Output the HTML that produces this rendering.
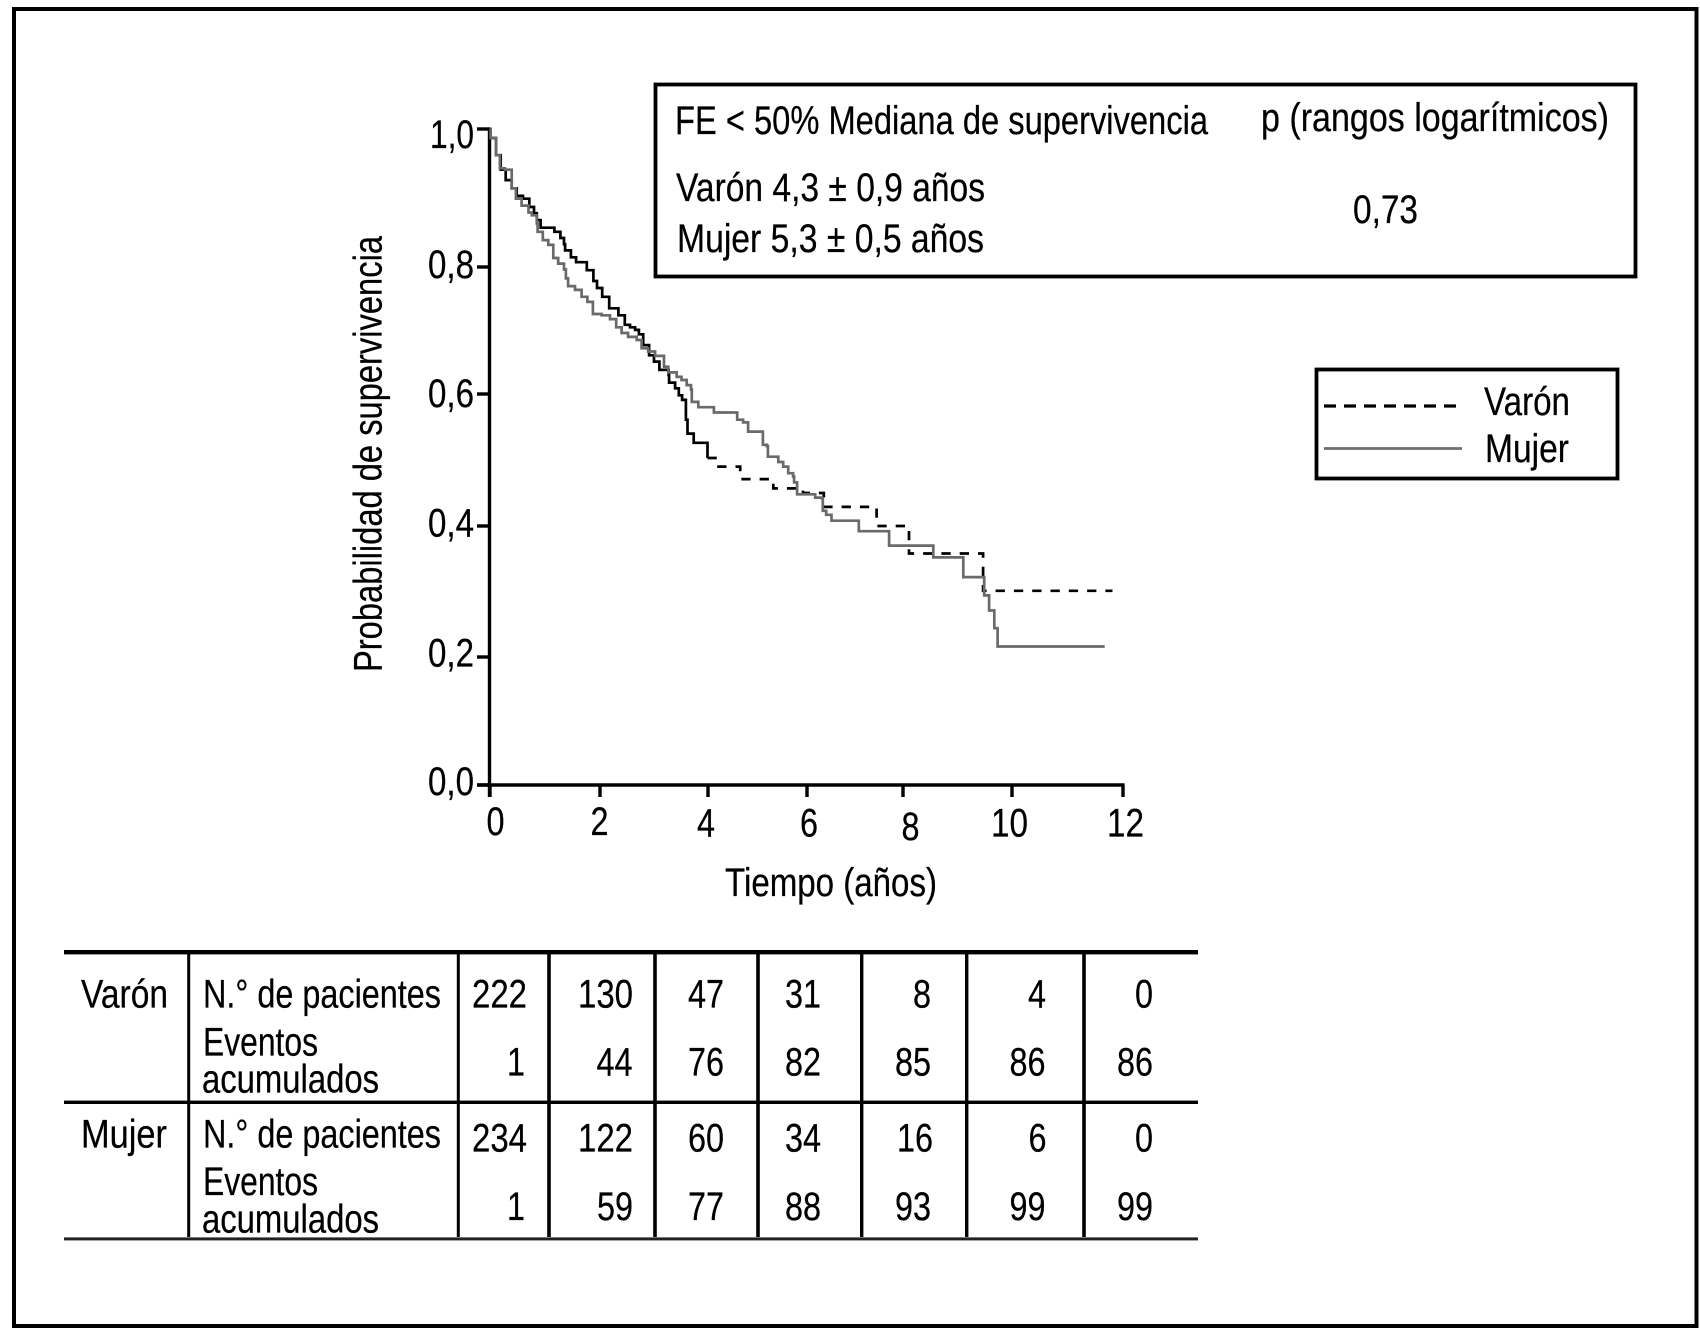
<!DOCTYPE html>
<html lang="es">
<head>
<meta charset="utf-8">
<title>Probabilidad de supervivencia</title>
<style>
html,body{margin:0;padding:0;background:#fff;}
svg{display:block;}
text{font-family:"Liberation Sans",Arial,sans-serif;font-size:40px;fill:#000;stroke:#000;stroke-width:0.25px;}
</style>
</head>
<body>
<svg id="chart" xmlns="http://www.w3.org/2000/svg" width="1700" height="1335" viewBox="0 0 1700 1335">
<rect x="14" y="9" width="1682.5" height="1317" fill="#fff" stroke="#000" stroke-width="4"/>

<g id="plot"></g>

<g>
<text x="430" y="148" textLength="44" lengthAdjust="spacingAndGlyphs">1,0</text>
<text x="428" y="278" textLength="46" lengthAdjust="spacingAndGlyphs">0,8</text>
<text x="428" y="407" textLength="46" lengthAdjust="spacingAndGlyphs">0,6</text>
<text x="428" y="536.5" textLength="46" lengthAdjust="spacingAndGlyphs">0,4</text>
<text x="428" y="666.5" textLength="46" lengthAdjust="spacingAndGlyphs">0,2</text>
<text x="428" y="795" textLength="46" lengthAdjust="spacingAndGlyphs">0,0</text>
</g>
<g>
<text x="486.5" y="835" textLength="18" lengthAdjust="spacingAndGlyphs">0</text>
<text x="590.5" y="835" textLength="18" lengthAdjust="spacingAndGlyphs">2</text>
<text x="697" y="836.5" textLength="18" lengthAdjust="spacingAndGlyphs">4</text>
<text x="800" y="836.5" textLength="18" lengthAdjust="spacingAndGlyphs">6</text>
<text x="901.5" y="840" textLength="18" lengthAdjust="spacingAndGlyphs">8</text>
<text x="991" y="836.5" textLength="37" lengthAdjust="spacingAndGlyphs">10</text>
<text x="1107" y="836.5" textLength="37" lengthAdjust="spacingAndGlyphs">12</text>
</g>
<text x="725" y="896" textLength="212" lengthAdjust="spacingAndGlyphs">Tiempo (años)</text>
<text transform="translate(381.5 672) rotate(-90)" x="0" y="0" textLength="436" lengthAdjust="spacingAndGlyphs">Probabilidad de supervivencia</text>

<g>
<rect x="655.5" y="84.5" width="980" height="192" fill="none" stroke="#000" stroke-width="3.8"/>
<text x="675" y="134" textLength="533" lengthAdjust="spacingAndGlyphs">FE &lt; 50% Mediana de supervivencia</text>
<text x="1261" y="131" textLength="348" lengthAdjust="spacingAndGlyphs">p (rangos logarítmicos)</text>
<text x="676" y="201" textLength="309" lengthAdjust="spacingAndGlyphs">Varón 4,3 ± 0,9 años</text>
<text x="677" y="252" textLength="307" lengthAdjust="spacingAndGlyphs">Mujer 5,3 ± 0,5 años</text>
<text x="1353" y="223" textLength="65" lengthAdjust="spacingAndGlyphs">0,73</text>
</g>

<g>
<rect x="1316.5" y="369.5" width="301" height="109" fill="none" stroke="#000" stroke-width="3.8"/>
<line x1="1324" y1="406" x2="1462" y2="406" stroke="#000" stroke-width="3.2" stroke-dasharray="12 8"/>
<line x1="1324" y1="448.5" x2="1462" y2="448.5" stroke="#6e6e6e" stroke-width="2.8"/>
<text x="1484" y="415" textLength="86" lengthAdjust="spacingAndGlyphs">Varón</text>
<text x="1485" y="462" textLength="84" lengthAdjust="spacingAndGlyphs">Mujer</text>
</g>

<g>
<rect x="64" y="950" width="1134" height="4.4" fill="#000"/>
<rect x="64" y="1100.6" width="1134" height="3.4" fill="#000"/>
<rect x="64" y="1237.4" width="1134" height="3" fill="#222"/>
<rect x="187.2" y="952" width="3" height="285" fill="#000"/>
<rect x="456.8" y="952" width="3" height="285" fill="#000"/>
<rect x="547.2" y="952" width="3.6" height="285" fill="#000"/>
<rect x="653.2" y="952" width="3.6" height="285" fill="#000"/>
<rect x="756.2" y="952" width="3.6" height="285" fill="#000"/>
<rect x="860" y="952" width="3.4" height="285" fill="#000"/>
<rect x="965" y="952" width="3.4" height="285" fill="#000"/>
<rect x="1082.2" y="952" width="3.6" height="285" fill="#000"/>

<text x="81" y="1007.5" textLength="87" lengthAdjust="spacingAndGlyphs">Varón</text>
<text x="81" y="1147.5" textLength="86" lengthAdjust="spacingAndGlyphs">Mujer</text>
<text x="203" y="1007.5" textLength="238" lengthAdjust="spacingAndGlyphs">N.° de pacientes</text>
<text x="203" y="1055.5" textLength="115" lengthAdjust="spacingAndGlyphs">Eventos</text>
<text x="202" y="1092.5" textLength="177" lengthAdjust="spacingAndGlyphs">acumulados</text>
<text x="203" y="1147.5" textLength="238" lengthAdjust="spacingAndGlyphs">N.° de pacientes</text>
<text x="203" y="1195" textLength="115" lengthAdjust="spacingAndGlyphs">Eventos</text>
<text x="202" y="1232.5" textLength="177" lengthAdjust="spacingAndGlyphs">acumulados</text>

<text x="472" y="1007.5" textLength="55" lengthAdjust="spacingAndGlyphs">222</text>
<text x="578" y="1007.5" textLength="55" lengthAdjust="spacingAndGlyphs">130</text>
<text x="688" y="1007.5" textLength="36" lengthAdjust="spacingAndGlyphs">47</text>
<text x="785" y="1007.5" textLength="36" lengthAdjust="spacingAndGlyphs">31</text>
<text x="913" y="1007.5" textLength="18" lengthAdjust="spacingAndGlyphs">8</text>
<text x="1028" y="1007.5" textLength="18" lengthAdjust="spacingAndGlyphs">4</text>
<text x="1135" y="1007.5" textLength="18" lengthAdjust="spacingAndGlyphs">0</text>

<text x="507" y="1075.5" textLength="18" lengthAdjust="spacingAndGlyphs">1</text>
<text x="596.5" y="1075.5" textLength="36" lengthAdjust="spacingAndGlyphs">44</text>
<text x="688" y="1075.5" textLength="36" lengthAdjust="spacingAndGlyphs">76</text>
<text x="785" y="1075.5" textLength="36" lengthAdjust="spacingAndGlyphs">82</text>
<text x="895" y="1075.5" textLength="36" lengthAdjust="spacingAndGlyphs">85</text>
<text x="1009.5" y="1075.5" textLength="36" lengthAdjust="spacingAndGlyphs">86</text>
<text x="1117" y="1075.5" textLength="36" lengthAdjust="spacingAndGlyphs">86</text>

<text x="472" y="1151.5" textLength="55" lengthAdjust="spacingAndGlyphs">234</text>
<text x="578" y="1151.5" textLength="55" lengthAdjust="spacingAndGlyphs">122</text>
<text x="688" y="1151.5" textLength="36" lengthAdjust="spacingAndGlyphs">60</text>
<text x="785" y="1151.5" textLength="36" lengthAdjust="spacingAndGlyphs">34</text>
<text x="897" y="1151.5" textLength="36" lengthAdjust="spacingAndGlyphs">16</text>
<text x="1028.5" y="1151.5" textLength="18" lengthAdjust="spacingAndGlyphs">6</text>
<text x="1135" y="1151.5" textLength="18" lengthAdjust="spacingAndGlyphs">0</text>

<text x="507" y="1220" textLength="18" lengthAdjust="spacingAndGlyphs">1</text>
<text x="597" y="1220" textLength="36" lengthAdjust="spacingAndGlyphs">59</text>
<text x="688" y="1220" textLength="36" lengthAdjust="spacingAndGlyphs">77</text>
<text x="785" y="1220" textLength="36" lengthAdjust="spacingAndGlyphs">88</text>
<text x="895" y="1220" textLength="36" lengthAdjust="spacingAndGlyphs">93</text>
<text x="1009.5" y="1220" textLength="36" lengthAdjust="spacingAndGlyphs">99</text>
<text x="1117" y="1220" textLength="36" lengthAdjust="spacingAndGlyphs">99</text>
</g>
</svg>

<script>
const xTickValues = [0, 2, 4, 6, 8, 10, 12];
const yTickValues = [0, 0.2, 0.4, 0.6, 0.8, 1];

const varonTimes = [0.01,0.11,0.195,0.285,0.395,0.485,0.60,0.715,0.80,0.85,0.92,1.17,1.28,1.345,1.365,1.47,1.565,1.76,1.88,1.945,2.04,2.17,2.34,2.46,2.555,2.65,2.72,2.80,2.91,3.00,3.10,3.27,3.28,3.39,3.46,3.52,3.59,3.62,3.735,3.99,4.18,4.65,5.32,5.92,6.35,7.45,8.11,9.47];
const varonSurvival = [0.987,0.962,0.941,0.926,0.914,0.903,0.899,0.887,0.878,0.868,0.857,0.851,0.842,0.833,0.824,0.814,0.807,0.795,0.778,0.767,0.753,0.735,0.724,0.709,0.705,0.701,0.694,0.677,0.661,0.651,0.638,0.630,0.618,0.609,0.598,0.591,0.561,0.540,0.526,0.503,0.490,0.471,0.457,0.450,0.429,0.400,0.358,0.301];
const varonEndTime = 11.81;
const varonDashStartTime = 3.99;

const mujerTimes = [0.01,0.11,0.18,0.27,0.395,0.47,0.575,0.70,0.76,0.85,0.865,0.96,1.06,1.15,1.24,1.345,1.38,1.42,1.545,1.665,1.77,1.87,2.03,2.185,2.30,2.40,2.52,2.68,2.77,2.89,3.02,3.185,3.265,3.42,3.51,3.605,3.685,3.70,3.82,4.12,4.59,4.71,4.81,5.11,5.19,5.21,5.42,5.52,5.62,5.72,5.74,5.80,6.17,6.31,6.33,6.40,6.51,7.08,7.71,8.556,9.106,9.49,9.58,9.675,9.735];
const mujerSurvival = [0.987,0.962,0.943,0.941,0.914,0.899,0.889,0.879,0.875,0.863,0.851,0.839,0.832,0.813,0.805,0.796,0.782,0.770,0.764,0.753,0.745,0.726,0.724,0.718,0.705,0.696,0.690,0.685,0.672,0.667,0.660,0.643,0.634,0.627,0.622,0.614,0.607,0.588,0.580,0.572,0.561,0.557,0.543,0.523,0.521,0.505,0.497,0.490,0.480,0.475,0.466,0.448,0.443,0.442,0.423,0.417,0.408,0.392,0.370,0.352,0.322,0.294,0.271,0.244,0.216];
const mujerEndTime = 11.67;

function interpolate(value, domain, range) {
  let i = 0;
  while (i < domain.length - 2 && value > domain[i + 1]) i++;
  return range[i] + (value - domain[i]) * (range[i + 1] - range[i]) / (domain[i + 1] - domain[i]);
}
function xScale(t) {
  return interpolate(t, [0, 2, 4, 6, 8, 10, 12], [490, 600, 708, 807, 903, 1012, 1123]);
}
function yScale(s) {
  return interpolate(s, [0, 0.2, 0.4, 0.6, 0.8, 1], [785, 657, 526, 394, 267, 129]);
}
function stepPath(times, values, startTime, startValue, endTime) {
  let d = 'M' + xScale(startTime).toFixed(1) + ' ' + yScale(startValue).toFixed(1);
  for (let i = 0; i < times.length; i++) {
    d += 'H' + xScale(times[i]).toFixed(1) + 'V' + yScale(values[i]).toFixed(1);
  }
  if (endTime !== null) d += 'H' + xScale(endTime).toFixed(1);
  return d;
}

const NS = 'http://www.w3.org/2000/svg';
const plot = document.getElementById('plot');

const xAxisLine = document.createElementNS(NS, 'line');


xAxisLine.setAttribute('x1', xScale(0) - 13);
xAxisLine.setAttribute('x2', xScale(12) + 1.5);
xAxisLine.setAttribute('y1', yScale(0));
xAxisLine.setAttribute('y2', yScale(0));
xAxisLine.setAttribute('stroke', '#000');
xAxisLine.setAttribute('stroke-width', '3.4');
plot.appendChild(xAxisLine);

const yAxisLine = document.createElementNS(NS, 'line');


yAxisLine.setAttribute('x1', xScale(0) - 0.5);
yAxisLine.setAttribute('x2', xScale(0) - 0.5);
yAxisLine.setAttribute('y1', yScale(1) - 1.5);
yAxisLine.setAttribute('y2', yScale(0) + 12);
yAxisLine.setAttribute('stroke', '#000');
yAxisLine.setAttribute('stroke-width', '3.4');
plot.appendChild(yAxisLine);

xTickValues.forEach(function (t) {
  const tick = document.createElementNS(NS, 'line');
  
  
  tick.setAttribute('x1', xScale(t));
  tick.setAttribute('x2', xScale(t));
  tick.setAttribute('y1', yScale(0));
  tick.setAttribute('y2', yScale(0) + 12);
  tick.setAttribute('stroke', '#000');
  tick.setAttribute('stroke-width', '3.4');
  plot.appendChild(tick);
});

yTickValues.forEach(function (s) {
  const tick = document.createElementNS(NS, 'line');
  
  
  tick.setAttribute('x1', xScale(0) - 13);
  tick.setAttribute('x2', xScale(0));
  tick.setAttribute('y1', yScale(s));
  tick.setAttribute('y2', yScale(s));
  tick.setAttribute('stroke', '#000');
  tick.setAttribute('stroke-width', '3.4');
  plot.appendChild(tick);
});

const splitIndex = varonTimes.filter(function (t) { return t <= varonDashStartTime; }).length;

const varonSolid = document.createElementNS(NS, 'path');


varonSolid.setAttribute('d', stepPath(varonTimes.slice(0, splitIndex), varonSurvival.slice(0, splitIndex), 0, 1, null));
varonSolid.setAttribute('fill', 'none');
varonSolid.setAttribute('stroke', '#000');
varonSolid.setAttribute('stroke-width', '2.7');
plot.appendChild(varonSolid);

const varonDashed = document.createElementNS(NS, 'path');


varonDashed.setAttribute('d', stepPath(varonTimes.slice(splitIndex), varonSurvival.slice(splitIndex), varonTimes[splitIndex - 1], varonSurvival[splitIndex - 1], varonEndTime));
varonDashed.setAttribute('fill', 'none');
varonDashed.setAttribute('stroke', '#000');
varonDashed.setAttribute('stroke-width', '2.7');
varonDashed.setAttribute('stroke-dasharray', '9.3 9');
plot.appendChild(varonDashed);

const mujerCurve = document.createElementNS(NS, 'path');


mujerCurve.setAttribute('d', stepPath(mujerTimes, mujerSurvival, 0, 1, mujerEndTime));
mujerCurve.setAttribute('fill', 'none');
mujerCurve.setAttribute('stroke', '#6a6a6a');
mujerCurve.setAttribute('stroke-width', '2.7');
plot.appendChild(mujerCurve);
</script>
</body>
</html>
